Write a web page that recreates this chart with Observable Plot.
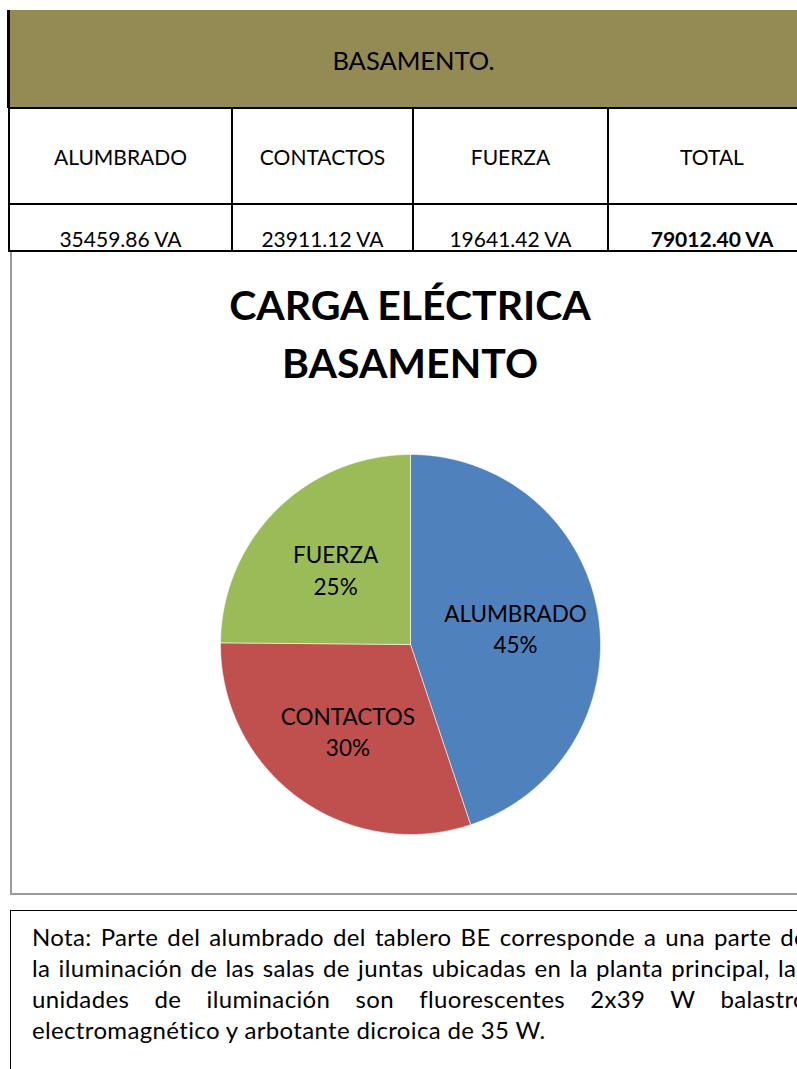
<!DOCTYPE html>
<html><head><meta charset="utf-8">
<script src="https://cdn.jsdelivr.net/npm/d3@7"></script>
<script src="https://cdn.jsdelivr.net/npm/@observablehq/plot@0.6"></script>
<style>
html,body{margin:0;padding:0;background:#fff;width:797px;height:1069px;overflow:hidden;position:relative;font-family:Lato,"Open Sans",sans-serif;color:#000;}
.abs{position:absolute;box-sizing:border-box;}
.cell{position:absolute;display:flex;align-items:center;justify-content:center;font-size:21px;white-space:nowrap;}
.nl{text-align:justify;text-align-last:justify;white-space:nowrap;height:31px;line-height:31px;}
</style></head><body>
<script>
// ---- data ----
const sheetTitle = "BASAMENTO.";
const categories = ["ALUMBRADO", "CONTACTOS", "FUERZA"];
const loads = [35459.86, 23911.12, 19641.42];
const totalLabel = "TOTAL";
const unit = "VA";
const chartTitle = ["CARGA ELÉCTRICA", "BASAMENTO"];
const colors = ["#4F81BD", "#C0504D", "#9BBB59"];
const noteLines = [
  "Nota: Parte del alumbrado del tablero BE corresponde a una parte de",
  "la iluminación de las salas de juntas ubicadas en la planta principal, las",
  "unidades de iluminación son fluorescentes 2x39 W balastro",
  "electromagnético y arbotante dicroica de 35 W."
];

// ---- layout ----
const body = document.body;
function add(html, css, cls) {
  const d = document.createElement("div");
  d.className = cls || "abs";
  d.style.cssText = css;
  if (html != null) d.innerHTML = html;
  body.appendChild(d);
  return d;
}
// header band
add(`<span>${sheetTitle}</span>`, "left:7px;top:10px;width:810px;height:98px;background:#948A54;border-left:3px solid #000;display:flex;align-items:center;justify-content:center;font-size:25.5px;padding-top:2px;");
// table
const colX = [9, 232, 413, 608, 816];
const total = d3.sum(loads);
const headers = [...categories, totalLabel];
const valuesTxt = [...loads.map(v => v.toFixed(2) + " " + unit), `<b>${total.toFixed(2)} ${unit}</b>`];
for (let i = 0; i < 4; i++) {
  add(headers[i], `left:${colX[i]}px;top:108px;width:${colX[i+1]-colX[i]}px;height:96px;`, "cell");
  add(valuesTxt[i], `left:${colX[i]}px;top:224px;width:${colX[i+1]-colX[i]}px;height:28px;`, "cell");
}
// table lines
add(null, "left:8px;top:107px;width:810px;height:2px;background:#000;");
add(null, "left:8px;top:203px;width:810px;height:2px;background:#000;");
add(null, "left:8px;top:250px;width:810px;height:2px;background:#000;");
for (let i = 0; i < 4; i++) add(null, `left:${colX[i]-1}px;top:108px;width:2px;height:143px;background:#000;`);
// chart box
add(null, "left:10px;top:252px;width:820px;height:643px;border-left:2px solid #9a9a9a;border-bottom:2px solid #9a9a9a;");
add(chartTitle.join("<br>"), "left:10px;top:276px;width:800px;text-align:center;font-weight:bold;font-size:41px;line-height:58px;");

// ---- pie via Plot ----
const rows = categories.map((c, i) => ({cat: c, value: loads[i]}));
const arcs = d3.pie().sort(null).value(d => d.value)(rows);
const pts = [];
const labels = [];
for (const a of arcs) {
  const n = Math.max(2, Math.ceil((a.endAngle - a.startAngle) / (Math.PI / 360)));
  pts.push({cat: a.data.cat, x: 0, y: 0});
  for (let i = 0; i <= n; i++) {
    const t = a.startAngle + (a.endAngle - a.startAngle) * i / n;
    pts.push({cat: a.data.cat, x: Math.sin(t), y: Math.cos(t)});
  }
  pts.push({cat: a.data.cat, x: 0, y: 0});
  const m = (a.startAngle + a.endAngle) / 2;
  labels.push({x: 0.56 * Math.sin(m), y: 0.56 * Math.cos(m), text: a.data.cat + "\n" + Math.round(a.data.value / total * 100) + "%"});
}
const chart = Plot.plot({
  width: 400, height: 400, margin: 10,
  style: {background: "transparent", fontFamily: "Lato, 'Open Sans', sans-serif", overflow: "visible"},
  x: {domain: [-1, 1], axis: null},
  y: {domain: [-1, 1], axis: null},
  color: {domain: categories, range: colors},
  marks: [
    Plot.line(pts, {x: "x", y: "y", z: "cat", fill: "cat", stroke: "#ffffff", strokeWidth: 0.8, strokeOpacity: 0.7}),
    Plot.text(labels, {x: "x", y: "y", text: "text", fontSize: 22.5, lineHeight: 1.4, fill: "#000"})
  ]
});
const holder = add(null, "left:210px;top:444px;width:400px;height:400px;");
holder.appendChild(chart);

// note box
const note = add(null, "left:10px;top:910px;width:820px;height:200px;border:1px solid #000;padding:10px 0 0 21px;font-size:24px;letter-spacing:0.35px;");
const inner = document.createElement("div");
inner.style.cssText = "width:775px;";
note.appendChild(inner);
noteLines.forEach((l, i) => {
  const d = document.createElement("div");
  d.className = "nl";
  if (i === noteLines.length - 1) d.style.textAlignLast = "left";
  d.textContent = l;
  inner.appendChild(d);
});
</script>
</body></html>
